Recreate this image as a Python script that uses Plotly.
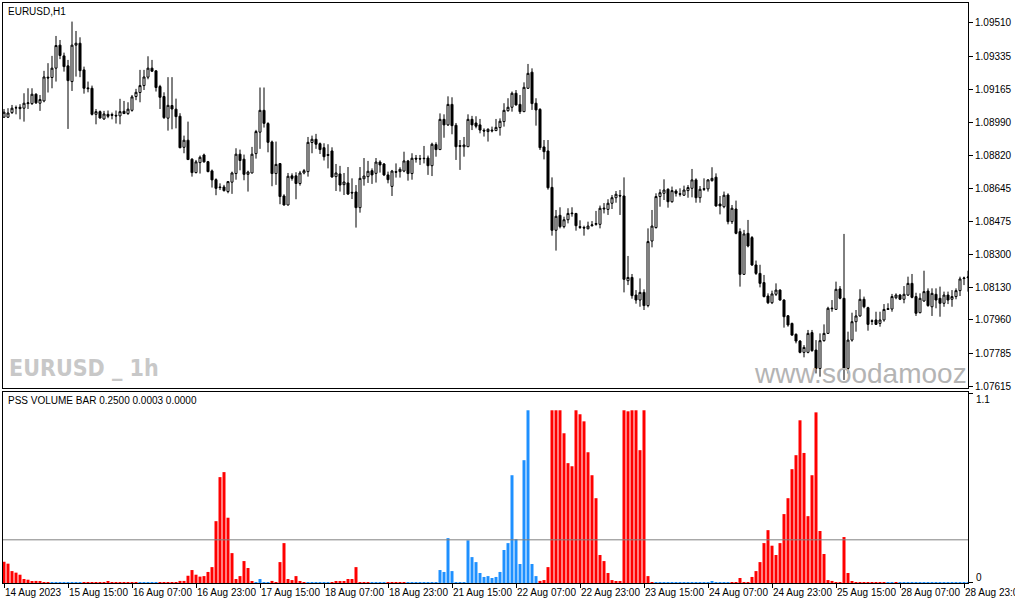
import pandas as pd
import plotly.graph_objects as go

# ---------------- data ----------------
# hourly bars (weekends skipped), 14 Aug 2023 23:00 .. 29 Aug 2023 00:00
bar_times = [t for t in pd.date_range("2023-08-14 23:00", "2023-08-29 00:00", freq="h") if t.weekday() < 5]
x_cat = [t.strftime("%Y-%m-%d %H:%M") for t in bar_times]

open_ = [
    1.09018, 1.09018, 1.09042, 1.09068, 1.09070, 1.09065, 1.09089, 1.09089, 1.09138, 1.09091,
    1.09103, 1.09227, 1.09225, 1.09274, 1.09394, 1.09338, 1.09286, 1.09204, 1.09394, 1.09404,
    1.09265, 1.09171, 1.09169, 1.09033, 1.09047, 1.09009, 1.09033, 1.09032, 1.09028, 1.09025,
    1.09049, 1.09037, 1.09054, 1.09126, 1.09147, 1.09183, 1.09227, 1.09274, 1.09260, 1.09178,
    1.09126, 1.09013, 1.09079, 1.09060, 1.09023, 1.08861, 1.08898, 1.08799, 1.08729, 1.08781,
    1.08821, 1.08786, 1.08738, 1.08692, 1.08654, 1.08654, 1.08630, 1.08679, 1.08724, 1.08825,
    1.08799, 1.08720, 1.08727, 1.08828, 1.08940, 1.09054, 1.08985, 1.08889, 1.08724, 1.08776,
    1.08607, 1.08560, 1.08712, 1.08712, 1.08672, 1.08727, 1.08734, 1.08886, 1.08903, 1.08880,
    1.08859, 1.08823, 1.08842, 1.08708, 1.08722, 1.08666, 1.08675, 1.08626, 1.08628, 1.08546,
    1.08697, 1.08708, 1.08739, 1.08725, 1.08784, 1.08774, 1.08717, 1.08657, 1.08734, 1.08734,
    1.08737, 1.08790, 1.08724, 1.08804, 1.08802, 1.08804, 1.08805, 1.08765, 1.08875, 1.08849,
    1.09007, 1.08978, 1.09085, 1.08976, 1.08870, 1.08864, 1.08864, 1.09007, 1.08988, 1.08978,
    1.08950, 1.08943, 1.08946, 1.08948, 1.08964, 1.08995, 1.09052, 1.09070, 1.09143, 1.09085,
    1.09047, 1.09169, 1.09253, 1.09091, 1.09059, 1.08863, 1.08842, 1.08652, 1.08428, 1.08506,
    1.08447, 1.08483, 1.08518, 1.08516, 1.08447, 1.08443, 1.08436, 1.08452, 1.08459, 1.08459,
    1.08539, 1.08537, 1.08569, 1.08598, 1.08610, 1.08607, 1.08165, 1.08182, 1.08090, 1.08064,
    1.08104, 1.08035, 1.08372, 1.08442, 1.08604, 1.08621, 1.08642, 1.08577, 1.08633, 1.08619,
    1.08611, 1.08635, 1.08647, 1.08691, 1.08598, 1.08645, 1.08644, 1.08687, 1.08705, 1.08565,
    1.08551, 1.08612, 1.08473, 1.08539, 1.08421, 1.08198, 1.08412, 1.08390, 1.08247, 1.08203,
    1.08155, 1.08085, 1.08050, 1.08094, 1.08116, 1.08064, 1.07982, 1.07942, 1.07885, 1.07850,
    1.07791, 1.07791, 1.07894, 1.07803, 1.07707, 1.07852, 1.07890, 1.08022, 1.08015, 1.08122,
    1.08073, 1.07707, 1.07855, 1.07951, 1.07981, 1.08068, 1.08024, 1.07956, 1.07960, 1.07942,
    1.07960, 1.08015, 1.08017, 1.08076, 1.08090, 1.08068, 1.08090, 1.08151, 1.08082, 1.07998,
    1.08059, 1.08111, 1.08029, 1.08094, 1.08073, 1.08047, 1.08090, 1.08068, 1.08082, 1.08113,
    1.08176, 1.08181,
]

high = [
    1.09061, 1.09065, 1.09082, 1.09079, 1.09086, 1.09143, 1.09169, 1.09169, 1.09143, 1.09134,
    1.09260, 1.09300, 1.09338, 1.09442, 1.09421, 1.09355, 1.09317, 1.09517, 1.09468, 1.09435,
    1.09282, 1.09204, 1.09183, 1.09061, 1.09053, 1.09051, 1.09053, 1.09042, 1.09053, 1.09114,
    1.09103, 1.09096, 1.09134, 1.09166, 1.09265, 1.09265, 1.09336, 1.09317, 1.09262, 1.09187,
    1.09148, 1.09227, 1.09227, 1.09115, 1.09039, 1.08922, 1.08995, 1.08804, 1.08795, 1.08818,
    1.08828, 1.08790, 1.08745, 1.08699, 1.08673, 1.08665, 1.08685, 1.08734, 1.08856, 1.08849,
    1.08823, 1.08739, 1.08863, 1.08952, 1.09173, 1.09173, 1.08992, 1.08896, 1.08891, 1.08778,
    1.08616, 1.08727, 1.08725, 1.08731, 1.08738, 1.08748, 1.08915, 1.08922, 1.08931, 1.08886,
    1.08882, 1.08877, 1.08861, 1.08774, 1.08764, 1.08727, 1.08758, 1.08699, 1.08664, 1.08758,
    1.08805, 1.08790, 1.08751, 1.08805, 1.08793, 1.08779, 1.08734, 1.08743, 1.08777, 1.08757,
    1.08838, 1.08795, 1.08830, 1.08821, 1.08821, 1.08868, 1.08818, 1.08885, 1.08887, 1.09038,
    1.09033, 1.09127, 1.09122, 1.08988, 1.08899, 1.08915, 1.09033, 1.09025, 1.09023, 1.09009,
    1.08960, 1.08960, 1.08969, 1.09009, 1.09012, 1.09091, 1.09117, 1.09152, 1.09160, 1.09134,
    1.09200, 1.09296, 1.09273, 1.09117, 1.09065, 1.08899, 1.08899, 1.08704, 1.08534, 1.08548,
    1.08499, 1.08543, 1.08548, 1.08518, 1.08480, 1.08452, 1.08473, 1.08476, 1.08529, 1.08557,
    1.08570, 1.08590, 1.08612, 1.08633, 1.08638, 1.08704, 1.08294, 1.08200, 1.08116, 1.08177,
    1.08120, 1.08438, 1.08534, 1.08621, 1.08642, 1.08694, 1.08647, 1.08656, 1.08642, 1.08647,
    1.08661, 1.08664, 1.08748, 1.08699, 1.08659, 1.08699, 1.08694, 1.08757, 1.08725, 1.08607,
    1.08630, 1.08621, 1.08560, 1.08583, 1.08438, 1.08430, 1.08482, 1.08398, 1.08270, 1.08248,
    1.08195, 1.08099, 1.08113, 1.08151, 1.08120, 1.08068, 1.07986, 1.07946, 1.07890, 1.07855,
    1.07829, 1.07908, 1.07908, 1.07855, 1.07890, 1.07937, 1.08029, 1.08064, 1.08160, 1.08137,
    1.08409, 1.07899, 1.07998, 1.08012, 1.08120, 1.08082, 1.08029, 1.07963, 1.08003, 1.08003,
    1.08043, 1.08047, 1.08096, 1.08099, 1.08096, 1.08137, 1.08186, 1.08200, 1.08102, 1.08099,
    1.08217, 1.08125, 1.08125, 1.08125, 1.08134, 1.08108, 1.08108, 1.08116, 1.08125, 1.08186,
    1.08186, 1.08217,
]

low = [
    1.09016, 1.09014, 1.09035, 1.09033, 1.09007, 1.08995, 1.09061, 1.09082, 1.09087, 1.09051,
    1.09096, 1.09147, 1.09169, 1.09204, 1.09321, 1.09256, 1.08957, 1.09155, 1.09230, 1.09227,
    1.09141, 1.09148, 1.09027, 1.08981, 1.09011, 1.09004, 1.09013, 1.09007, 1.08985, 1.08981,
    1.09035, 1.09030, 1.09047, 1.09107, 1.09096, 1.09160, 1.09216, 1.09256, 1.09152, 1.09061,
    1.09009, 1.08948, 1.08955, 1.08960, 1.08856, 1.08830, 1.08795, 1.08708, 1.08725, 1.08724,
    1.08781, 1.08731, 1.08651, 1.08611, 1.08638, 1.08630, 1.08621, 1.08618, 1.08692, 1.08741,
    1.08689, 1.08630, 1.08725, 1.08802, 1.08853, 1.08964, 1.08835, 1.08658, 1.08665, 1.08564,
    1.08557, 1.08558, 1.08687, 1.08590, 1.08661, 1.08720, 1.08708, 1.08830, 1.08853, 1.08826,
    1.08792, 1.08751, 1.08703, 1.08633, 1.08630, 1.08612, 1.08612, 1.08591, 1.08442, 1.08520,
    1.08661, 1.08675, 1.08670, 1.08677, 1.08729, 1.08711, 1.08673, 1.08607, 1.08703, 1.08703,
    1.08731, 1.08687, 1.08692, 1.08781, 1.08769, 1.08777, 1.08717, 1.08711, 1.08812, 1.08847,
    1.08911, 1.08972, 1.08929, 1.08795, 1.08743, 1.08812, 1.08863, 1.08951, 1.08960, 1.08934,
    1.08917, 1.08891, 1.08939, 1.08946, 1.08922, 1.08969, 1.09047, 1.09047, 1.09079, 1.09035,
    1.09045, 1.09166, 1.09056, 1.08974, 1.08847, 1.08798, 1.08640, 1.08400, 1.08322, 1.08438,
    1.08438, 1.08464, 1.08499, 1.08426, 1.08435, 1.08400, 1.08433, 1.08447, 1.08452, 1.08438,
    1.08516, 1.08508, 1.08539, 1.08572, 1.08508, 1.08104, 1.08142, 1.08071, 1.08045, 1.08029,
    1.08012, 1.08026, 1.08339, 1.08437, 1.08551, 1.08586, 1.08546, 1.08572, 1.08604, 1.08604,
    1.08607, 1.08598, 1.08600, 1.08572, 1.08572, 1.08633, 1.08630, 1.08682, 1.08551, 1.08511,
    1.08543, 1.08459, 1.08461, 1.08407, 1.08134, 1.08195, 1.08339, 1.08242, 1.08195, 1.08130,
    1.08078, 1.08043, 1.08043, 1.08085, 1.08061, 1.07920, 1.07925, 1.07878, 1.07838, 1.07786,
    1.07765, 1.07786, 1.07794, 1.07681, 1.07664, 1.07847, 1.07887, 1.08003, 1.08012, 1.08068,
    1.07647, 1.07681, 1.07847, 1.07899, 1.07977, 1.08021, 1.07904, 1.07934, 1.07934, 1.07925,
    1.07951, 1.08012, 1.08003, 1.08068, 1.08064, 1.08047, 1.08085, 1.08073, 1.07981, 1.07995,
    1.08055, 1.08029, 1.07981, 1.08021, 1.07977, 1.08029, 1.08043, 1.08029, 1.08068, 1.08085,
    1.08142, 1.08108,
]

close = [
    1.09044, 1.09040, 1.09065, 1.09067, 1.09063, 1.09091, 1.09093, 1.09138, 1.09093, 1.09110,
    1.09228, 1.09223, 1.09274, 1.09392, 1.09340, 1.09282, 1.09209, 1.09394, 1.09404, 1.09261,
    1.09169, 1.09167, 1.09033, 1.09047, 1.09014, 1.09035, 1.09023, 1.09028, 1.09025, 1.09047,
    1.09037, 1.09060, 1.09124, 1.09148, 1.09183, 1.09228, 1.09274, 1.09258, 1.09173, 1.09122,
    1.09016, 1.09080, 1.09061, 1.09021, 1.08859, 1.08898, 1.08797, 1.08729, 1.08785, 1.08809,
    1.08785, 1.08734, 1.08691, 1.08647, 1.08651, 1.08635, 1.08682, 1.08727, 1.08825, 1.08792,
    1.08720, 1.08732, 1.08825, 1.08943, 1.09054, 1.08986, 1.08887, 1.08724, 1.08772, 1.08604,
    1.08560, 1.08710, 1.08699, 1.08672, 1.08727, 1.08739, 1.08887, 1.08903, 1.08877, 1.08849,
    1.08812, 1.08819, 1.08706, 1.08727, 1.08664, 1.08680, 1.08617, 1.08623, 1.08546, 1.08699,
    1.08711, 1.08736, 1.08717, 1.08784, 1.08769, 1.08717, 1.08692, 1.08737, 1.08731, 1.08746,
    1.08790, 1.08724, 1.08804, 1.08800, 1.08800, 1.08802, 1.08765, 1.08877, 1.08849, 1.09007,
    1.08978, 1.09085, 1.08974, 1.08864, 1.08866, 1.08873, 1.09007, 1.08978, 1.08971, 1.08951,
    1.08946, 1.08955, 1.08950, 1.08965, 1.08997, 1.09054, 1.09070, 1.09143, 1.09082, 1.09047,
    1.09174, 1.09247, 1.09089, 1.09056, 1.08859, 1.08838, 1.08650, 1.08428, 1.08501, 1.08447,
    1.08483, 1.08516, 1.08515, 1.08452, 1.08443, 1.08440, 1.08450, 1.08456, 1.08463, 1.08543,
    1.08543, 1.08569, 1.08598, 1.08616, 1.08607, 1.08172, 1.08182, 1.08087, 1.08064, 1.08104,
    1.08035, 1.08369, 1.08450, 1.08604, 1.08624, 1.08638, 1.08577, 1.08635, 1.08621, 1.08616,
    1.08638, 1.08651, 1.08691, 1.08598, 1.08642, 1.08642, 1.08691, 1.08699, 1.08555, 1.08555,
    1.08611, 1.08473, 1.08543, 1.08412, 1.08198, 1.08409, 1.08346, 1.08247, 1.08203, 1.08151,
    1.08082, 1.08050, 1.08096, 1.08116, 1.08064, 1.07977, 1.07934, 1.07881, 1.07850, 1.07791,
    1.07817, 1.07890, 1.07800, 1.07707, 1.07852, 1.07890, 1.08021, 1.08019, 1.08120, 1.08073,
    1.07707, 1.07855, 1.07951, 1.07981, 1.08068, 1.08029, 1.07937, 1.07953, 1.07937, 1.07960,
    1.08015, 1.08019, 1.08082, 1.08090, 1.08068, 1.08094, 1.08151, 1.08078, 1.07995, 1.08073,
    1.08108, 1.08035, 1.08099, 1.08064, 1.08047, 1.08090, 1.08064, 1.08082, 1.08113, 1.08174,
    1.08179, 1.08184,
]

# PSS VOLUME BAR indicator values and their colour side (r = red, b = blue)
pss_values = [
    0.123, 0.112, 0.069, 0.060, 0.048, 0.023, 0.019, 0.008, 0.012, 0.006,
    0.005, 0.005, 0.005, 0.005, 0.005, 0.005, 0.005, 0.005, 0.005, 0.005,
    0.005, 0.005, 0.005, 0.005, 0.005, 0.005, 0.008, 0.005, 0.005, 0.005,
    0.005, 0.005, 0.005, 0.005, 0.005, 0.005, 0.005, 0.005, 0.005, 0.005,
    0.005, 0.005, 0.005, 0.005, 0.012, 0.012, 0.042, 0.075, 0.048, 0.037,
    0.040, 0.064, 0.092, 0.358, 0.613, 0.642, 0.378, 0.173, 0.023, 0.040,
    0.127, 0.087, 0.008, 0.005, 0.023, 0.005, 0.005, 0.012, 0.005, 0.121,
    0.231, 0.023, 0.017, 0.040, 0.008, 0.005, 0.005, 0.005, 0.005, 0.005,
    0.005, 0.005, 0.005, 0.006, 0.008, 0.008, 0.023, 0.023, 0.092, 0.005,
    0.005, 0.005, 0.005, 0.005, 0.005, 0.005, 0.005, 0.005, 0.005, 0.005,
    0.005, 0.005, 0.005, 0.005, 0.005, 0.005, 0.005, 0.005, 0.005, 0.075,
    0.064, 0.260, 0.069, 0.005, 0.005, 0.005, 0.247, 0.150, 0.121, 0.058,
    0.035, 0.040, 0.029, 0.035, 0.064, 0.191, 0.231, 0.624, 0.254, 0.110,
    0.711, 1.000, 0.110, 0.040, 0.012, 0.017, 0.092, 1.000, 1.000, 1.000,
    0.867, 0.694, 0.676, 1.000, 0.977, 0.936, 0.757, 0.624, 0.491, 0.162,
    0.127, 0.058, 0.017, 0.006, 0.006, 1.000, 0.994, 1.000, 1.000, 0.769,
    1.000, 0.040, 0.005, 0.005, 0.005, 0.005, 0.005, 0.005, 0.005, 0.005,
    0.005, 0.005, 0.005, 0.005, 0.005, 0.005, 0.005, 0.008, 0.005, 0.005,
    0.005, 0.005, 0.005, 0.005, 0.029, 0.005, 0.005, 0.035, 0.069, 0.121,
    0.231, 0.306, 0.216, 0.162, 0.231, 0.399, 0.491, 0.659, 0.740, 0.942,
    0.753, 0.387, 0.624, 0.988, 0.301, 0.168, 0.017, 0.012, 0.005, 0.005,
    0.266, 0.058, 0.006, 0.005, 0.005, 0.005, 0.005, 0.005, 0.005, 0.005,
    0.005, 0.005, 0.005, 0.005, 0.005, 0.005, 0.005, 0.005, 0.005, 0.005,
    0.005, 0.005, 0.005, 0.005, 0.005, 0.005, 0.005, 0.005, 0.005, 0.005,
    0.005, 0.005,
]

pss_side = (
    "rrrrrrrrrr" "rrbbbbbbbb" "rrrrrrrrrr" "rrrrbbbbbr" "rrrrrrrrrr"
    "rrrrrrrrrr" "rrrbbbbrrr" "rrrrrrbbbb" "bbrrrrrrrr" "rrbbbbrrrr"
    "rbbbbbbbbb" "bbbbbbbbbb" "bbbbbbbbbb" "bbbbrrrrrr" "rrrrrrrrrr"
    "rrrrrrrrrr" "rrrbbbbbbb" "bbbbbbbbbb" "bbrrrrrrrr" "rrrrrrrrrr"
    "rrrrrrrrrr" "rrrrrrrrrr" "rbbrbbbbbb" "bbbbbbbbbb" "bb"
)

pss_level = 0.25

price_ticks = [1.09510, 1.09335, 1.09165, 1.08990, 1.08820, 1.08645,
               1.08475, 1.08300, 1.08130, 1.07960, 1.07785, 1.07615]
price_tick_labels = ["1.09510", "1.09335", "1.09165", "1.08990", "1.08820", "1.08645",
                     "1.08475", "1.08300", "1.08130", "1.07960", "1.07785", "1.07615"]

time_tick_labels = ["14 Aug 2023", "15 Aug 15:00", "16 Aug 07:00", "16 Aug 23:00",
                    "17 Aug 15:00", "18 Aug 07:00", "18 Aug 23:00", "21 Aug 15:00",
                    "22 Aug 07:00", "22 Aug 23:00", "23 Aug 15:00", "24 Aug 07:00",
                    "24 Aug 23:00", "25 Aug 15:00", "28 Aug 07:00", "28 Aug 23:00"]
time_tick_cats = x_cat[::16]

assert len(x_cat) == len(open_) == len(high) == len(low) == len(close) == len(pss_values) == len(pss_side)

# ---------------- figure ----------------
FONT = "Liberation Sans, Arial, sans-serif"
side_colors = {"r": "#FF0000", "b": "#1E90FF"}

fig = go.Figure()
fig.add_trace(go.Candlestick(
    x=x_cat, open=open_, high=high, low=low, close=close,
    xaxis="x", yaxis="y",
    increasing=dict(line=dict(color="black", width=1), fillcolor="white"),
    decreasing=dict(line=dict(color="black", width=1), fillcolor="black"),
    whiskerwidth=0, hoverinfo="skip", showlegend=False,
))
fig.add_trace(go.Bar(
    x=x_cat, y=pss_values, xaxis="x2", yaxis="y2",
    marker=dict(color=[side_colors[s] for s in pss_side], line=dict(width=0)),
    hoverinfo="skip", showlegend=False,
))

axis_common = dict(showline=True, linecolor="black", linewidth=1, mirror=True,
                   showgrid=False, zeroline=False, automargin=False)

fig.update_layout(
    width=1015, height=605,
    margin=dict(l=3, r=47, t=3, b=22, autoexpand=False),
    paper_bgcolor="white", plot_bgcolor="white",
    bargap=0.25, boxgap=0.28,
    showlegend=False,
    xaxis=dict(domain=[0, 1], anchor="y", type="category", range=[-0.25, 241.0],
               showticklabels=False, ticks="", rangeslider=dict(visible=False), **axis_common),
    yaxis=dict(domain=[0.3362, 1.0], anchor="x", side="right", range=[1.07605, 1.09614],
               tickmode="array", tickvals=price_ticks, ticktext=price_tick_labels,
               ticks="outside", ticklen=4, tickcolor="black",
               tickfont=dict(family=FONT, size=10, color="black"), **axis_common),
    xaxis2=dict(domain=[0, 1], anchor="y2", type="category", matches="x",
                tickmode="array", tickvals=time_tick_cats, ticktext=time_tick_labels,
                tickangle=0, ticks="outside", ticklen=4, tickcolor="black",
                ticklabelposition="outside right",
                tickfont=dict(family=FONT, size=10, color="black"), **axis_common),
    yaxis2=dict(domain=[0, 0.3293], anchor="x2", side="right", range=[0, 1.1058],
                tickmode="array", tickvals=[0, 1.1], showticklabels=False,
                ticks="outside", ticklen=4, tickcolor="black", **axis_common),
)

fig.add_shape(type="line", xref="x2 domain", yref="y2", x0=0, x1=1,
              y0=pss_level, y1=pss_level, line=dict(color="#808080", width=1))

ann_font = dict(family=FONT, size=10, color="black")
fig.add_annotation(text="EURUSD,H1", xref="paper", yref="paper", x=0.003, y=0.986,
                   xanchor="left", yanchor="middle", showarrow=False, font=ann_font)
fig.add_annotation(text="PSS VOLUME BAR 0.2500 0.0003 0.0000", xref="paper", yref="paper",
                   x=0.003, y=0.3155, xanchor="left", yanchor="middle", showarrow=False, font=ann_font)
fig.add_annotation(text="1.1", xref="paper", yref="paper", x=1.006, y=0.317,
                   xanchor="left", yanchor="middle", showarrow=False, font=ann_font)
fig.add_annotation(text="0", xref="paper", yref="paper", x=1.006, y=0.0103,
                   xanchor="left", yanchor="middle", showarrow=False, font=ann_font)
fig.add_annotation(text="<b>EURUSD _ 1h</b>", xref="paper", yref="paper", x=0.004, y=0.370,
                   xanchor="left", yanchor="middle", showarrow=False,
                   font=dict(family="Liberation Sans Narrow, DejaVu Sans Condensed, Liberation Sans, sans-serif",
                             size=23, color="#C8C8C8"))
fig.add_annotation(text="www.soodamooz", xref="paper", yref="paper", x=0.776, y=0.362,
                   xanchor="left", yanchor="middle", showarrow=False,
                   font=dict(family=FONT, size=28, color="#B4B4B4"))

fig.write_html("out.html", config={"displayModeBar": False},
               post_script="document.body.style.margin='0';document.body.style.padding='0';")
